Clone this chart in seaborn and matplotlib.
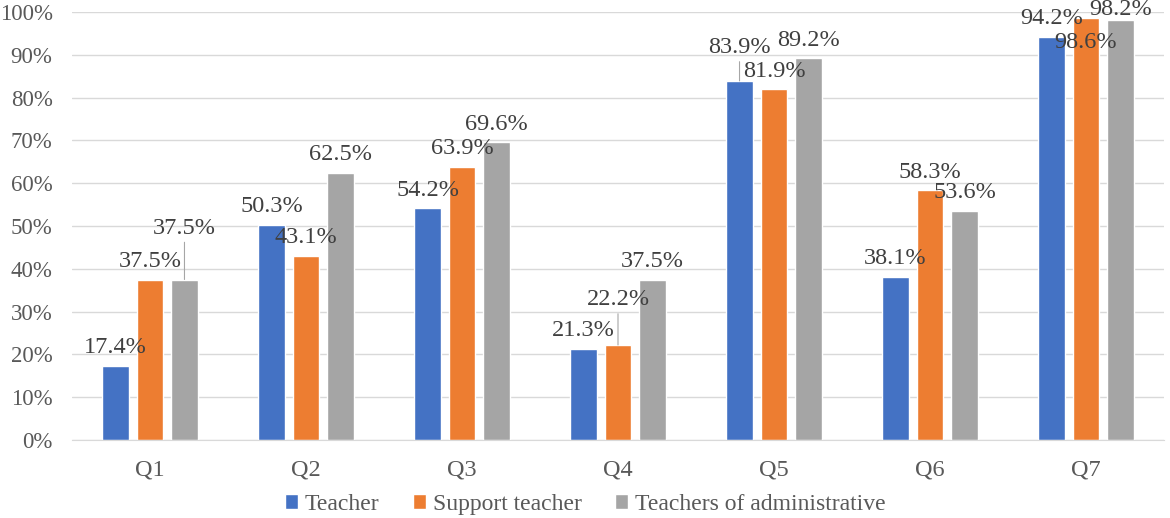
import pandas as pd
import matplotlib.pyplot as plt
import seaborn as sns

# values (percent)
questions = ['Q1', 'Q2', 'Q3', 'Q4', 'Q5', 'Q6', 'Q7']
series_names = ['Teacher', 'Support teacher', 'Teachers of administrative']
teacher = [17.4, 50.3, 54.2, 21.3, 83.9, 38.1, 94.2]
support_teacher = [37.5, 43.1, 63.9, 22.2, 81.9, 58.3, 98.6]
admin_teacher = [37.5, 62.5, 69.6, 37.5, 89.2, 53.6, 98.2]

colors = ['#4472C4', '#ED7D31', '#A5A5A5']

# label offsets (pixels above bar top) where Excel moved the label
label_dy = {
    (0, 'Teachers of administrative'): 51,
    (3, 'Support teacher'): 45,
    (4, 'Teacher'): 33,
    (6, 'Support teacher'): -25,
    (6, 'Teachers of administrative'): 10,
}

df = pd.DataFrame({
    'question': questions * 3,
    'group': [s for s in series_names for _ in questions],
    'value': teacher + support_teacher + admin_teacher,
})

sns.set_style('white')
plt.rcParams['font.family'] = ['Liberation Serif', 'DejaVu Serif']

fig = plt.figure(figsize=(11.7, 5.18), dpi=100)
ax = fig.add_axes([72 / 1170, 78 / 518, 1092 / 1170, 428 / 518])

sns.barplot(data=df, x='question', y='value', hue='group', hue_order=series_names,
            palette=colors, width=0.663, gap=0.22, saturation=1, ax=ax)

ax.set_xlim(-0.5, 6.5)
ax.set_ylim(0, 100)
ax.set_yticks(range(0, 101, 10))
ax.set_yticklabels([f'{t}%' for t in range(0, 101, 10)])
ax.set_xlabel('')
ax.set_ylabel('')
ax.grid(axis='y', color='#D9D9D9', lw=1)
ax.set_axisbelow(True)
for side in ['top', 'left', 'right']:
    ax.spines[side].set_visible(False)
ax.spines['bottom'].set_color('#D9D9D9')
ax.tick_params(axis='y', length=0, pad=14, labelsize=16.5, labelcolor='#595959')
ax.tick_params(axis='x', length=0, pad=14, labelsize=17.5, labelcolor='#595959')

# data labels
for cont, name in zip(ax.containers, series_names):
    for i, bar in enumerate(cont):
        h = bar.get_height()
        x = bar.get_x() + bar.get_width() / 2
        dy = label_dy.get((i, name), 18)
        leader = dict(arrowstyle='-', color='#A6A6A6', lw=0.8, shrinkA=0, shrinkB=0) if dy > 25 else None
        ax.annotate(f'{h:.1f}%', xy=(x, h), xytext=(0, dy), textcoords='offset pixels',
                    ha='center', va='center', fontsize=17.5, color='#404040',
                    arrowprops=leader, annotation_clip=False)

sns.move_legend(ax, 'lower center', bbox_to_anchor=(0.5, -0.012), bbox_transform=fig.transFigure,
                ncol=3, title=None, frameon=False, fontsize=17, handlelength=0.55,
                handleheight=0.55, handletextpad=0.3, columnspacing=1.4, borderaxespad=0.0)
for t in ax.get_legend().get_texts():
    t.set_color('#595959')

fig.savefig('out.png', dpi=100)
